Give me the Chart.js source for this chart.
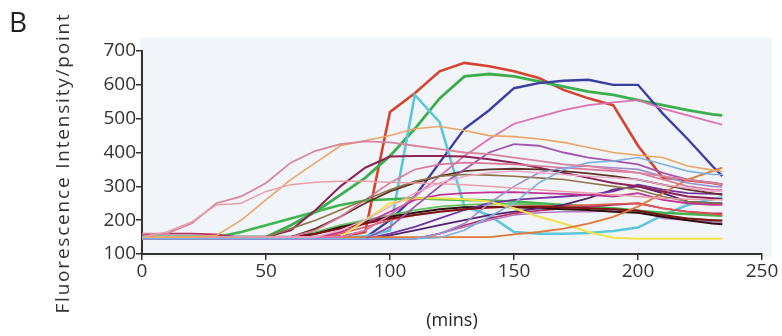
<!DOCTYPE html>
<html>
<head>
<meta charset="utf-8">
<script src="https://cdn.jsdelivr.net/npm/chart.js@4.4.0/dist/chart.umd.min.js"></script>
<style>
  html, body { margin: 0; padding: 0; background: #fff; }
  #wrap { width: 782px; height: 336px; position: relative; }
</style>
</head>
<body>
<div id="wrap"><canvas id="myChart" width="782" height="336"></canvas></div>
<script>
// sample times (mins)
let times = [0, 10, 20, 30, 40, 50, 60, 70, 80, 90, 100, 110, 120, 130, 140, 150, 160, 170, 180, 190, 200, 210, 220, 230, 234];
let yTicks = [100, 200, 300, 400, 500, 600, 700];
let xTicks = [0, 50, 100, 150, 200, 250];

// one array per traced spot
let redSpot      = [150,150,150,150,150,150,150,150,152,165,520,575,640,665,655,640,620,585,560,540,420,325,318,310,305];
let greenSpot    = [150,150,150,150,150,150,185,225,275,325,390,470,560,625,632,625,610,595,580,570,555,540,525,513,510];
let greenSpot2   = [150,150,150,150,165,185,205,225,245,258,262,265,262,260,258,255,250,245,240,235,228,222,218,215,213];
let blueSpot     = [145,145,145,145,145,145,145,145,145,148,200,270,370,470,525,590,605,612,615,600,600,515,440,360,330];
let cyanSpot     = [150,150,150,150,150,150,150,150,150,152,170,570,490,240,215,165,160,160,162,168,178,215,245,262,268];
let skySpot      = [145,145,145,145,145,145,145,145,145,145,145,145,148,170,210,250,310,350,370,375,385,365,345,335,335];
let orangeSpot   = [150,150,150,155,200,260,320,370,420,435,450,470,477,465,450,447,440,430,415,400,392,385,360,348,344];
let pinkSpot     = [160,160,190,250,270,310,370,405,425,433,430,420,410,400,395,385,375,365,360,350,340,330,320,310,305];
let salmonSpot   = [150,165,195,245,250,285,305,312,315,315,312,310,308,305,300,295,290,285,280,275,270,265,262,260,260];
let magentaSpot  = [150,150,150,150,150,150,150,150,150,170,215,270,330,390,440,485,505,525,540,548,555,530,510,490,482];
let maroonSpot   = [150,150,150,150,150,150,170,230,300,355,388,390,390,388,380,370,355,340,325,310,300,285,270,265,262];
let brownSpot    = [150,150,150,150,150,150,150,175,210,250,285,310,330,345,350,352,350,345,338,330,320,305,290,280,275];
let purpleSpot   = [145,145,145,145,145,145,145,145,145,145,180,240,300,350,400,425,420,400,385,375,365,340,320,310,305];
let amberSpot    = [150,150,150,150,150,150,150,150,150,150,150,150,150,150,150,158,165,175,190,210,240,280,320,345,355];
let yellowSpot   = [150,150,150,150,150,150,150,150,150,200,250,265,265,262,255,235,210,190,165,148,145,145,145,145,145];
let darkRedSpot  = [150,150,150,150,150,150,150,160,175,190,205,215,225,232,238,240,240,238,235,232,228,215,205,200,198];
let fuchsiaSpot  = [150,150,150,150,150,150,150,150,165,190,225,260,275,280,282,283,280,278,275,270,280,260,250,245,245];
let violetSpot   = [145,145,145,145,145,145,145,145,145,145,160,180,205,230,250,260,265,270,275,285,305,290,280,278,278];
let roseSpot     = [150,150,150,150,150,150,150,170,210,260,310,350,365,370,368,365,360,355,350,345,340,320,300,290,290];
let lavenderSpot = [145,145,145,145,145,145,145,145,145,145,145,145,160,190,250,300,340,355,360,355,350,330,310,300,298];
let oliveSpot    = [150,150,150,150,150,150,175,200,230,260,290,315,330,335,333,330,325,320,310,300,290,270,255,250,248];
let plumSpot     = [145,145,145,145,145,145,145,145,145,145,155,170,185,200,215,225,235,245,265,290,300,280,255,250,250];
let blackSpot    = [148,148,148,148,148,148,148,160,180,195,210,222,232,238,240,238,235,232,230,225,222,210,200,190,188];
let lilacSpot    = [145,145,145,145,145,145,145,145,145,145,145,145,160,180,200,215,222,225,225,228,230,205,200,195,192];
let coralSpot    = [150,150,150,150,150,150,150,150,160,180,200,215,225,232,236,240,242,243,245,248,250,235,225,218,215];
let crimsonSpot  = [158,160,160,158,148,145,145,145,145,145,145,145,160,185,205,220,228,235,240,245,250,235,225,220,220];
let leafSpot     = [150,150,150,150,150,150,150,165,185,200,215,230,240,245,248,248,245,240,235,228,222,212,205,200,200];
let blushSpot    = [150,150,150,150,150,150,150,150,170,200,240,280,310,330,340,345,340,335,330,325,320,305,295,285,285];

let series = [
  [salmonSpot, '#e8a0a8', 1.5], [pinkSpot, '#d9849c', 1.8], [orangeSpot, '#eaa667', 1.6],
  [skySpot, '#7fb1dc', 1.6], [blushSpot, '#f0a6c6', 1.5], [lavenderSpot, '#9c8fd0', 1.6],
  [oliveSpot, '#8e7548', 1.6], [roseSpot, '#dd7396', 1.6], [purpleSpot, '#a056b0', 1.8],
  [brownSpot, '#5e3424', 1.8], [maroonSpot, '#8c2352', 2.0], [magentaSpot, '#de6fb4', 1.8],
  [amberSpot, '#e2773a', 1.8], [yellowSpot, '#f1e24a', 2.0], [darkRedSpot, '#7c1414', 2.0],
  [fuchsiaSpot, '#c23494', 1.8], [violetSpot, '#74339f', 1.8], [plumSpot, '#53226f', 1.8],
  [blackSpot, '#2e1212', 2.0], [lilacSpot, '#b679c6', 1.5], [coralSpot, '#e0574f', 1.6],
  [crimsonSpot, '#b8306a', 1.8], [leafSpot, '#66c060', 1.8], [greenSpot2, '#3fb54e', 2.6],
  [cyanSpot, '#5cc6da', 2.6], [blueSpot, '#3c3fa1', 2.4], [greenSpot, '#3dae4c', 2.8],
  [redSpot, '#d5432e', 2.6]
];

let datasets = series.map(function (s) {
  return {
    data: s[0].map(function (v, i) { return { x: times[i], y: v }; }),
    borderColor: s[1],
    borderWidth: s[2],
    pointRadius: 0,
    fill: false,
    tension: 0
  };
});

let decor = {
  id: 'decor',
  beforeDraw: function (chart) {
    let c = chart.ctx, a = chart.chartArea;
    c.save();
    c.fillStyle = '#f1f5f9';
    c.fillRect(a.left - 2, a.top - 13, a.right - a.left + 12, a.bottom - a.top + 16);
    c.restore();
  },
  afterDraw: function (chart) {
    let c = chart.ctx;
    c.save();
    c.fillStyle = '#222';
    c.font = '28px "Open Sans"';
    c.textBaseline = 'alphabetic';
    c.fillText('B', 9, 32);
    c.translate(64, 163);
    c.rotate(-Math.PI / 2);
    c.font = '19px "Open Sans"';
    c.letterSpacing = '1.8px';
    c.textAlign = 'center';
    c.textBaseline = 'middle';
    c.fillStyle = '#333';
    c.fillText('Fluorescence Intensity/point', 0, 0);
    c.restore();
  }
};

let ctx = document.getElementById('myChart').getContext('2d');
let myChart = new Chart(ctx, {
  type: 'line',
  data: { datasets: datasets },
  plugins: [decor],
  options: {
    responsive: false,
    animation: false,
    layout: { padding: { top: 51, right: 20, left: 0, bottom: 0 } },
    plugins: { legend: { display: false }, tooltip: { enabled: false } },
    scales: {
      x: {
        type: 'linear',
        min: 0, max: 250,
        afterFit: function (s) { s.height = 82; },
        afterBuildTicks: function (s) { s.ticks = xTicks.map(function (v) { return { value: v }; }); },
        grid: { drawOnChartArea: false, color: '#333', tickLength: 6, lineWidth: 1.5 },
        border: { color: '#333', width: 2 },
        ticks: { color: '#333', font: { family: 'Open Sans', size: 19 }, padding: 0, maxRotation: 0 },
        title: { display: true, text: '(mins)', color: '#222', font: { family: 'Open Sans', size: 18 }, padding: { top: 12 } }
      },
      y: {
        min: 100, max: 700,
        afterFit: function (s) { s.width = 142; },
        afterBuildTicks: function (s) { s.ticks = yTicks.map(function (v) { return { value: v }; }); },
        grid: { drawOnChartArea: false, color: '#333', tickLength: 6, lineWidth: 1.5 },
        border: { color: '#333', width: 2 },
        ticks: { color: '#333', font: { family: 'Open Sans', size: 19 }, padding: 0 }
      }
    }
  }
});
</script>
</body>
</html>
